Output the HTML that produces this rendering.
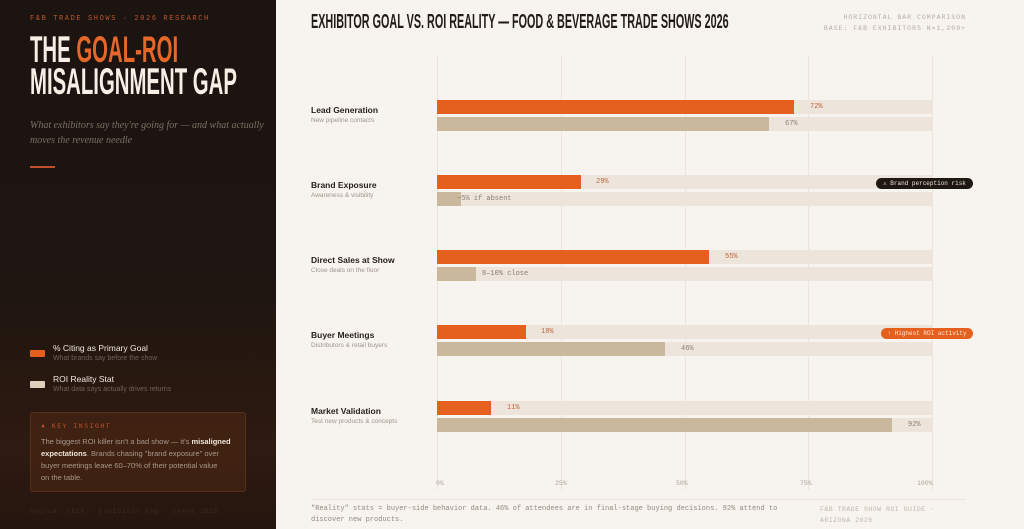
<!DOCTYPE html>
<html><head><meta charset="utf-8"><style>
*{margin:0;padding:0;box-sizing:border-box}
body{width:1024px;height:529px;overflow:hidden;background:#f7f3ee;font-family:"Liberation Sans",sans-serif;position:relative}
.a{position:absolute;white-space:nowrap}
.side{position:absolute;left:0;top:0;width:276px;height:529px;background:linear-gradient(180deg,#1b1410 0%,#1d1511 50%,#2e1a10 85%,#24160f 100%)}
.mono{font-family:"Liberation Mono",monospace}
.cond{font-family:"Liberation Sans Narrow","Liberation Sans",sans-serif;font-weight:bold}
.trk{position:absolute;left:437px;width:495px;height:14px;background:#ede5dc}
.o{position:absolute;left:437px;height:14px;background:#e5601f}
.b{position:absolute;left:437px;height:14px;background:#c9b89c}
.vo{position:absolute;font-family:"Liberation Mono",monospace;font-size:7px;color:#c0643a}
.vb{position:absolute;font-family:"Liberation Mono",monospace;font-size:7px;color:#8a7d70}
.lab{position:absolute;left:311px;font-size:8.5px;font-weight:bold;color:#2a211c}
.sub{position:absolute;left:311px;font-size:6.5px;color:#a0968c}
.g{position:absolute;top:55px;width:1px;height:435px;background:#ece5dc}
.ax{position:absolute;top:480px;font-family:"Liberation Mono",monospace;font-size:6.5px;color:#b0a69c}
</style></head><body>
<div class="side"></div>
<div class="a mono" style="left:30px;top:15px;font-size:7px;letter-spacing:1.6px;color:#c0572a">F&amp;B TRADE SHOWS · 2026 RESEARCH</div>
<div class="a cond" style="left:30px;top:34px;font-size:37px;line-height:32px;color:#f6efe6;transform:scaleX(0.55);transform-origin:left">THE <span style="color:#e5682a">GOAL-ROI</span><br>MISALIGNMENT GAP</div>
<div class="a" style="left:30px;top:118px;font-family:'Liberation Serif',serif;font-style:italic;font-size:10px;line-height:15px;color:#7d6e64">What exhibitors say they're going for — and what actually<br>moves the revenue needle</div>
<div class="a" style="left:30px;top:166px;width:25px;height:2px;background:#c0502a"></div>
<div class="a" style="left:30px;top:350px;width:15px;height:7px;background:#e5601f;border-radius:1px"></div>
<div class="a" style="left:53px;top:343px;font-size:8.5px;color:#f0e8e0">% Citing as Primary Goal</div>
<div class="a" style="left:53px;top:355px;font-size:7px;color:#6f6058">What brands say before the show</div>
<div class="a" style="left:30px;top:381px;width:15px;height:7px;background:#ddd0bd;border-radius:1px"></div>
<div class="a" style="left:53px;top:374px;font-size:8.5px;color:#f0e8e0">ROI Reality Stat</div>
<div class="a" style="left:53px;top:386px;font-size:7px;color:#6f6058">What data says actually drives returns</div>
<div class="a" style="left:30px;top:412px;width:216px;height:80px;background:rgba(120,60,25,0.25);border:1px solid rgba(150,80,40,0.3);border-radius:3px"></div>
<div class="a mono" style="left:41px;top:423px;font-size:6.5px;letter-spacing:1.5px;color:#c0502a">♦ KEY INSIGHT</div>
<div class="a" style="left:41px;top:436px;font-size:7.5px;line-height:12px;color:#a8988c">The biggest ROI killer isn't a bad show — it's <b style="color:#efe5da">misaligned</b><br><b style="color:#efe5da">expectations</b>. Brands chasing "brand exposure" over<br>buyer meetings leave 60–70% of their potential value<br>on the table.</div>
<div class="a mono" style="left:30px;top:508px;font-size:6px;letter-spacing:1px;color:#3a2c24">Source: CEIR · Exhibitor Mag · Cvent 2025</div>

<div class="a cond" style="left:311px;top:11px;font-size:20px;color:#231b16;transform:scaleX(0.54);transform-origin:left">EXHIBITOR GOAL VS. ROI REALITY — FOOD &amp; BEVERAGE TRADE SHOWS 2026</div>
<div class="a mono" style="right:58px;top:14px;font-size:6.5px;letter-spacing:1px;color:#b5aca4;text-align:right">HORIZONTAL BAR COMPARISON<br><span style="line-height:16px">BASE: F&amp;B EXHIBITORS N=1,200+</span></div>

<div class="g" style="left:437px"></div><div class="g" style="left:561px"></div><div class="g" style="left:685px"></div><div class="g" style="left:808px"></div><div class="g" style="left:932px"></div>

<div class="lab" style="top:105px">Lead Generation</div><div class="sub" style="top:117px">New pipeline contacts</div>
<div class="trk" style="top:100px"></div><div class="o" style="top:100px;width:357px"></div><div class="vo" style="left:810px;top:103px">72%</div>
<div class="trk" style="top:117px"></div><div class="b" style="top:117px;width:332px"></div><div class="vb" style="left:785px;top:120px">67%</div>

<div class="lab" style="top:180px">Brand Exposure</div><div class="sub" style="top:192px">Awareness &amp; visibility</div>
<div class="trk" style="top:175px"></div><div class="o" style="top:175px;width:144px"></div><div class="vo" style="left:596px;top:178px">29%</div>
<div class="trk" style="top:192px"></div><div class="b" style="top:192px;width:24px"></div><div class="vb" style="left:457px;top:195px">~5% if absent</div>
<div class="a mono" style="left:876px;top:178px;width:97px;height:11px;background:#1e1712;color:#efe7dd;border-radius:6px;font-size:6px;line-height:11px;text-align:center">⚠ Brand perception risk</div>

<div class="lab" style="top:255px">Direct Sales at Show</div><div class="sub" style="top:267px">Close deals on the floor</div>
<div class="trk" style="top:250px"></div><div class="o" style="top:250px;width:272px"></div><div class="vo" style="left:725px;top:253px">55%</div>
<div class="trk" style="top:267px"></div><div class="b" style="top:267px;width:39px"></div><div class="vb" style="left:482px;top:270px">8–10% close</div>

<div class="lab" style="top:330px">Buyer Meetings</div><div class="sub" style="top:342px">Distributors &amp; retail buyers</div>
<div class="trk" style="top:325px"></div><div class="o" style="top:325px;width:89px"></div><div class="vo" style="left:541px;top:328px">18%</div>
<div class="trk" style="top:342px"></div><div class="b" style="top:342px;width:228px"></div><div class="vb" style="left:681px;top:345px">46%</div>
<div class="a mono" style="left:881px;top:328px;width:92px;height:11px;background:#e5601f;color:#fbe9dc;border-radius:6px;font-size:6px;line-height:11px;text-align:center">↑ Highest ROI activity</div>

<div class="lab" style="top:406px">Market Validation</div><div class="sub" style="top:418px">Test new products &amp; concepts</div>
<div class="trk" style="top:401px"></div><div class="o" style="top:401px;width:54px"></div><div class="vo" style="left:507px;top:404px">11%</div>
<div class="trk" style="top:418px"></div><div class="b" style="top:418px;width:455px"></div><div class="vb" style="left:908px;top:421px">92%</div>

<div class="ax" style="left:436px">0%</div><div class="ax" style="left:555px">25%</div><div class="ax" style="left:676px">50%</div><div class="ax" style="left:800px">75%</div><div class="ax" style="left:917px">100%</div>
<div class="a" style="left:311px;top:499px;width:655px;height:1px;background:#ebe4da"></div>
<div class="a mono" style="left:311px;top:504px;font-size:7px;line-height:11px;color:#948a80">"Reality" stats = buyer-side behavior data. 46% of attendees are in final-stage buying decisions. 92% attend to<br>discover new products.</div>
<div class="a mono" style="left:820px;top:504px;font-size:6.5px;line-height:11px;color:#c2b8ae;letter-spacing:0.5px">F&amp;B TRADE SHOW ROI GUIDE ·<br>ARIZONA 2026</div>
</body></html>
